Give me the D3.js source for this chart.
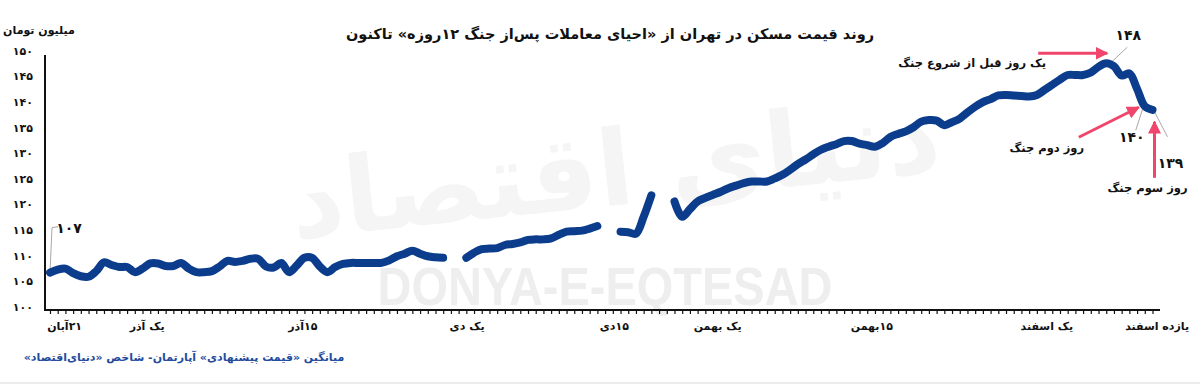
<!DOCTYPE html>
<html>
<head>
<meta charset="utf-8">
<script src="https://cdn.jsdelivr.net/npm/d3@7"></script>
<style>
  body { margin: 0; background: #fff; }
  svg { display: block; font-family: "DejaVu Sans", sans-serif; }
  .fa { direction: rtl; unicode-bidi: embed; }
</style>
</head>
<body>
<div id="chart"></div>
<script>
// average asking price of apartments in Tehran (million toman), one sample per tick
// null = no data for that step (breaks in the line)
const price = [
  107.1, 107.7, 107.9, 107.0, 106.4, 106.3, 107.4, 109.1, 108.6, 108.2,
  108.2, 107.2, 107.9, 108.9, 108.9, 108.4, 108.4, 109.0, 107.9, 107.2,
  107.2, 107.4, 108.3, 109.4, 109.2, 109.4, 109.8, 109.8, 108.3, 108.1,
  109.0, 107.2, 108.5, 110.0, 110.0, 108.3, 107.2, 108.2, 108.8, 109.0,
  109.0, 109.0, 109.0, 109.0, 109.5, 110.3, 110.8, 111.4, 110.8, 110.3,
  110.1, 110.0, null, null, 110.0, 111.0, 111.7, 111.8, 111.9, 112.5,
  112.7, 113.0, 113.5, 113.6, 113.6, 113.8, 114.5, 115.1, 115.2, 115.3,
  115.7, 116.2, null, null, 115.1, 115.0, 114.7, 118.0, 122.2, null,
  null, 121.0, 118.0, 119.5, 121.0, 121.7, 122.3, 122.9, 123.6, 124.1,
  124.6, 124.9, 124.9, 124.9, 125.5, 126.2, 127.2, 128.3, 129.2, 130.2,
  131.1, 131.7, 132.2, 132.8, 132.8, 132.3, 132.0, 131.7, 132.4, 133.6,
  134.2, 134.7, 135.5, 136.6, 136.9, 136.8, 135.9, 136.5, 137.2, 138.4,
  139.5, 140.4, 141.0, 141.7, 141.8, 141.7, 141.6, 141.5, 141.8, 142.8,
  143.8, 144.8, 145.7, 145.7, 145.7, 146.2, 147.3, 148.0, 147.4, 145.6,
  146.0, 143.0, 139.6, 138.9
]

const xLabels   = ["۲۱آبان", "یک آذر", "۱۵آذر", "یک دی", "۱۵دی", "یک بهمن", "۱۵بهمن", "یک اسفند", "یازده اسفند"]
const xLabelPos = [1.9, 12.6, 32.8, 54.1, 73.2, 86.6, 106.6, 129.3, 143.6]

const yTicks = [100, 105, 110, 115, 120, 125, 130, 135, 140, 145, 150]

// value call-outs: sample index and its label
const noteIdx  = [0, 137, 142, 143]
const noteText = ["۱۰۷", "۱۴۸", "۱۴۰", "۱۳۹"]

// pink arrows with captions
const arrowIdx  = [137, 142, 143]
const arrowText = ["یک روز قبل از شروع جنگ", "روز دوم جنگ", "روز سوم جنگ"]

const faDigits = s => String(s).replace(/\d/g, c => "۰۱۲۳۴۵۶۷۸۹"[c])

const W = 1200, H = 385
const svg = d3.select("#chart").append("svg")
  .attr("width", W).attr("height", H)

const x = d3.scaleLinear().domain([0, price.length - 1]).range([50, 1152.5])
const y = d3.scaleLinear().domain([100, 150]).range([309, 53])

const pink = "#f0466c"
const navy = "#0c3d8c"

// arrowhead marker
svg.append("defs").append("marker")
  .attr("id", "head")
  .attr("markerUnits", "userSpaceOnUse")
  .attr("viewBox", "0 0 10 10")
  .attr("refX", 9).attr("refY", 5)
  .attr("markerWidth", 13).attr("markerHeight", 13)
  .attr("orient", "auto")
  .append("path").attr("d", "M0,0 L10,5 L0,10 Z").attr("fill", pink)

// watermark
svg.append("text")
  .attr("class", "fa")
  .attr("x", 615).attr("y", 205)
  .attr("text-anchor", "middle")
  .attr("font-size", 105).attr("font-weight", "bold")
  .attr("fill", "#f5f5f5")
  .attr("transform", "rotate(-6 615 170)")
  .text("دنیای اقتصاد")

svg.append("text")
  .attr("x", 605).attr("y", 305)
  .attr("text-anchor", "middle")
  .attr("font-family", "Liberation Sans, sans-serif")
  .attr("font-size", 54).attr("font-weight", "bold")
  .attr("fill", "#eeeeee")
  .attr("textLength", 455).attr("lengthAdjust", "spacingAndGlyphs")
  .text("DONYA-E-EQTESAD")

// title and unit
svg.append("text")
  .attr("class", "fa")
  .attr("x", 610).attr("y", 39)
  .attr("text-anchor", "middle")
  .attr("font-size", 14.5).attr("font-weight", "bold").attr("fill", "#111")
  .text("روند قیمت مسکن در تهران از «احیای معاملات پس‌از جنگ ۱۲روزه» تاکنون")

svg.append("text")
  .attr("class", "fa")
  .attr("x", 39).attr("y", 34)
  .attr("text-anchor", "middle")
  .attr("font-size", 11).attr("font-weight", "bold").attr("fill", "#111")
  .text("میلیون تومان")

// y tick labels (no tick marks)
svg.append("g").selectAll("text")
  .data(yTicks).join("text")
  .attr("x", 33).attr("y", d => y(d) - 2)
  .attr("dy", "0.35em")
  .attr("text-anchor", "end")
  .attr("font-size", 11).attr("font-weight", "bold").attr("fill", "#111")
  .text(d => faDigits(d))

// axes lines
svg.append("line")
  .attr("x1", 45).attr("x2", 45).attr("y1", 55).attr("y2", 310)
  .attr("stroke", "#111").attr("stroke-width", 2)

const xAxis = svg.append("g")
  .attr("transform", "translate(0,310)")
  .call(d3.axisBottom(x).tickValues(d3.range(price.length)).tickSize(4).tickFormat(""))
xAxis.select(".domain").remove()
xAxis.selectAll(".tick line").attr("stroke", "#111").attr("stroke-width", 1.2)

svg.append("line")
  .attr("x1", 44).attr("x2", 1160).attr("y1", 310).attr("y2", 310)
  .attr("stroke", "#111").attr("stroke-width", 2)

svg.append("g").selectAll("text")
  .data(xLabels).join("text")
  .attr("class", "fa")
  .attr("x", (d, i) => x(xLabelPos[i])).attr("y", 330)
  .attr("text-anchor", "middle")
  .attr("font-size", 11).attr("font-weight", "bold").attr("fill", "#111")
  .text(d => d)

// leader lines for value call-outs
const pt = i => [x(i), y(price[i])]
const leaders = [
  i => { const [px, py] = pt(i); return `M${px},${py} L${px + 2},${py - 45} L${px + 8},${py - 46}` },
  i => { const [px, py] = pt(i); return `M${px + 4},${py} L${px + 21},${py - 16}` },
  i => { const [px, py] = pt(i); return `M${px - 2},${py + 2} L${px - 9},${py + 24}` },
  i => { const [px, py] = pt(i); return `M${px + 2},${py + 2} L${px + 15},${py + 27}` }
]
const noteOff = [[19, -40], [22, -23], [-13, 36], [18, 58]]

svg.append("g").selectAll("path")
  .data(noteIdx).join("path")
  .attr("d", (d, k) => leaders[k](d))
  .attr("fill", "none").attr("stroke", "#a8a8a8").attr("stroke-width", 1)

// price line
const line = d3.line()
  .defined(d => d != null)
  .x((d, i) => x(i))
  .y(d => y(d))
  .curve(d3.curveCatmullRom.alpha(0.5))

svg.append("path")
  .datum(price)
  .attr("d", line)
  .attr("fill", "none")
  .attr("stroke", navy).attr("stroke-width", 8)
  .attr("stroke-linecap", "round").attr("stroke-linejoin", "round")

svg.append("g").selectAll("text")
  .data(noteIdx).join("text")
  .attr("x", (d, k) => x(d) + noteOff[k][0])
  .attr("y", (d, k) => y(price[d]) + noteOff[k][1])
  .attr("text-anchor", "middle")
  .attr("font-size", 14).attr("font-weight", "bold").attr("fill", "#111")
  .text((d, k) => noteText[k])

// pink arrows + captions
const arrowGeom = [
  { from: [-68, -10], to: [1, -10], label: [-134, 4] },
  { from: [-66, 31], to: [-6, 1], label: [-98, 46] },
  { from: [2, 68], to: [2, 12], label: [-5, 82] }
]

svg.append("g").selectAll("line")
  .data(arrowIdx).join("line")
  .attr("x1", (d, k) => x(d) + arrowGeom[k].from[0])
  .attr("y1", (d, k) => y(price[d]) + arrowGeom[k].from[1])
  .attr("x2", (d, k) => x(d) + arrowGeom[k].to[0])
  .attr("y2", (d, k) => y(price[d]) + arrowGeom[k].to[1])
  .attr("stroke", pink).attr("stroke-width", 3)
  .attr("marker-end", "url(#head)")

svg.append("g").selectAll("text")
  .data(arrowIdx).join("text")
  .attr("class", "fa")
  .attr("x", (d, k) => x(d) + arrowGeom[k].label[0])
  .attr("y", (d, k) => y(price[d]) + arrowGeom[k].label[1])
  .attr("text-anchor", "middle")
  .attr("font-size", 11.5).attr("font-weight", "bold").attr("fill", "#111")
  .text((d, k) => arrowText[k])

// source note
svg.append("text")
  .attr("class", "fa")
  .attr("x", 184).attr("y", 361)
  .attr("text-anchor", "middle")
  .attr("font-size", 11).attr("font-weight", "bold").attr("fill", "#1f4c9c")
  .text("میانگین «قیمت پیشنهادی» آپارتمان- شاخص «دنیای‌اقتصاد»")

svg.append("line")
  .attr("x1", 0).attr("x2", W).attr("y1", 383).attr("y2", 383)
  .attr("stroke", "#e6e6e6").attr("stroke-width", 1.5)
</script>
</body>
</html>
